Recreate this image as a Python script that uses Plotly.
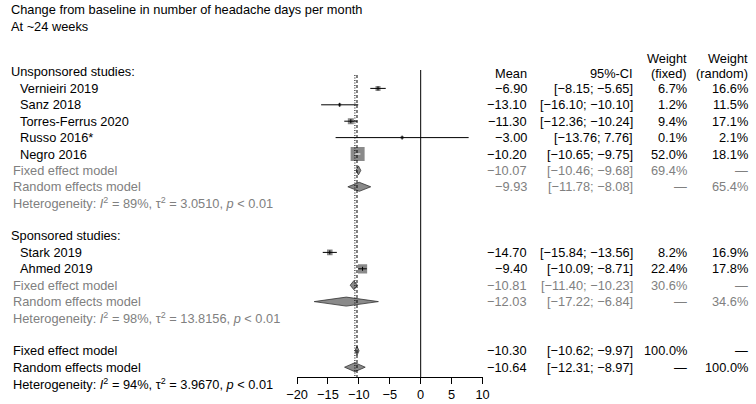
import plotly.graph_objects as go

# ---------------- data ----------------
title_lines = ["Change from baseline in number of headache days per month", "At ~24 weeks"]

studies_u = ["Vernieiri 2019", "Sanz 2018", "Torres-Ferrus 2020", "Russo 2016*", "Negro 2016"]
mean_u = [-6.90, -13.10, -11.30, -3.00, -10.20]
lo_u = [-8.15, -16.10, -12.36, -13.76, -10.65]
hi_u = [-5.65, -10.10, -10.24, 7.76, -9.75]
wf_u = [6.7, 1.2, 9.4, 0.1, 52.0]
wr_u = [16.6, 11.5, 17.1, 2.1, 18.1]

studies_s = ["Stark 2019", "Ahmed 2019"]
mean_s = [-14.70, -9.40]
lo_s = [-15.84, -10.09]
hi_s = [-13.56, -8.71]
wf_s = [8.2, 22.4]
wr_s = [16.9, 17.8]

# pooled: mean, lower, upper, weight
fixed_u = [-10.07, -10.46, -9.68, 69.4]
random_u = [-9.93, -11.78, -8.08, 65.4]
fixed_s = [-10.81, -11.40, -10.23, 30.6]
random_s = [-12.03, -17.22, -6.84, 34.6]
fixed_all = [-10.30, -10.62, -9.97, 100.0]
random_all = [-10.64, -12.31, -8.97, 100.0]

# heterogeneity: I2 (%), tau2
het_u = [89, "3.0510"]
het_s = [98, "13.8156"]
het_all = [94, "3.9670"]

x_ticks = [-20, -15, -10, -5, 0, 5, 10]

# ---------------- layout helpers ----------------
W, H = 756, 404
FONT = "Liberation Sans, Arial, sans-serif"
FS = 12.8
GREY = "#808080"
ROW0, DY = 72.0, 16.4
AXIS_Y = 377.0


def ry(k):
    return ROW0 + DY * k


def fmt(v):
    return f"{v:.2f}".replace("-", "\u2212")


def ci(lo, hi):
    return f"[{fmt(lo)}; {fmt(hi)}]"


def pct(w):
    return f"{w:.1f}%"


fig = go.Figure()
ann = []


def txt(x, y, s, anchor="left", color="black"):
    ann.append(dict(x=x / W, y=1 - y / H, xref="paper", yref="paper", text=s,
                    showarrow=False, xanchor=anchor, yanchor="middle",
                    borderpad=0, borderwidth=0,
                    font=dict(family=FONT, size=FS, color=color)))


X_LABEL, X_STUDY, X_MODEL = 0, 9, 2
X_MEAN, X_CI, X_WF, X_WR = 529, 637, 692, 755


def het_text(h):
    return (f"Heterogeneity: <i>I</i><sup>2</sup> = {h[0]}%, "
            f"\u03c4<sup>2</sup> = {h[1]}, <i>p</i> < 0.01")


# titles and headers
txt(X_LABEL, 9, title_lines[0])
txt(X_LABEL, 26, title_lines[1])
txt(X_MEAN, 74, "Mean", "right")
txt(X_CI, 74, "95%-CI", "right")
txt(X_WF, 58, "Weight", "right")
txt(X_WF, 74, "(fixed)", "right")
txt(X_WR, 58, "Weight", "right")
txt(X_WR, 74, "(random)", "right")

sq_max = 14.0


def study_rows(names, means, los, his, wfs, wrs, k0):
    for i, (n, m, lo, hi, wf, wr) in enumerate(zip(names, means, los, his, wfs, wrs)):
        y = ry(k0 + i)
        txt(X_STUDY, y, n)
        txt(X_MEAN, y, fmt(m), "right")
        txt(X_CI, y, ci(lo, hi), "right")
        txt(X_WF, y, pct(wf), "right")
        txt(X_WR, y, pct(wr), "right")
        size = max(3.0, sq_max * (wf / 52.0) ** 0.5)
        fig.add_trace(go.Scatter(x=[m], y=[y], mode="markers",
                                 marker=dict(symbol="square", size=size, color="#8a8a8a",
                                             line=dict(width=0)),
                                 hoverinfo="skip", showlegend=False))
        inside = size >= 12
        fig.add_trace(go.Scatter(x=[lo, hi], y=[y, y], mode="lines",
                                 line=dict(color="white" if inside else "black", width=1),
                                 hoverinfo="skip", showlegend=False))
        if not inside:
            fig.add_trace(go.Scatter(x=[m, m], y=[y - 2, y + 2], mode="lines",
                                     line=dict(color="black", width=1),
                                     hoverinfo="skip", showlegend=False))


def diamond(est, k, label, color, wf_txt, wr_txt):
    y = ry(k)
    m, lo, hi = est[0], est[1], est[2]
    txt(X_MODEL, y, label, "left", color)
    txt(X_MEAN, y, fmt(m), "right", color)
    txt(X_CI, y, ci(lo, hi), "right", color)
    txt(X_WF, y, wf_txt, "right", color)
    txt(X_WR, y, wr_txt, "right", color)
    h = 4.5
    fig.add_trace(go.Scatter(x=[lo, m, hi, m, lo], y=[y, y - h, y, y + h, y],
                             mode="lines", fill="toself", fillcolor="#8a8a8a",
                             line=dict(color="#333333", width=0.8),
                             hoverinfo="skip", showlegend=False))


DASH = "\u2014"

# unsponsored
txt(X_LABEL, ry(0), "Unsponsored studies:")
study_rows(studies_u, mean_u, lo_u, hi_u, wf_u, wr_u, 1)
diamond(fixed_u, 6, "Fixed effect model", GREY, pct(fixed_u[3]), DASH)
diamond(random_u, 7, "Random effects model", GREY, DASH, pct(random_u[3]))
txt(X_MODEL, ry(8), het_text(het_u), "left", GREY)

# sponsored
txt(X_LABEL, ry(10), "Sponsored studies:")
study_rows(studies_s, mean_s, lo_s, hi_s, wf_s, wr_s, 11)
diamond(fixed_s, 13, "Fixed effect model", GREY, pct(fixed_s[3]), DASH)
diamond(random_s, 14, "Random effects model", GREY, DASH, pct(random_s[3]))
txt(X_MODEL, ry(15), het_text(het_s), "left", GREY)

# overall
diamond(fixed_all, 17, "Fixed effect model", "black", pct(fixed_all[3]), DASH)
diamond(random_all, 18, "Random effects model", "black", DASH, pct(random_all[3]))
txt(X_MODEL, ry(19), het_text(het_all), "left", "black")

# reference lines
fig.add_trace(go.Scatter(x=[0, 0], y=[70, AXIS_Y], mode="lines",
                         line=dict(color="black", width=1), hoverinfo="skip", showlegend=False))
fig.add_trace(go.Scatter(x=[fixed_all[0]] * 2, y=[75, AXIS_Y], mode="lines",
                         line=dict(color="black", width=1, dash="3px,2px"),
                         hoverinfo="skip", showlegend=False))
fig.add_trace(go.Scatter(x=[random_all[0]] * 2, y=[75, AXIS_Y], mode="lines",
                         line=dict(color="black", width=1, dash="1px,1.5px"),
                         hoverinfo="skip", showlegend=False))

X0, X1 = 293, 483
fig.update_layout(
    width=W, height=H, margin=dict(l=0, r=0, t=0, b=0),
    paper_bgcolor="white", plot_bgcolor="rgba(0,0,0,0)",
    annotations=ann,
    xaxis=dict(domain=[X0 / W, X1 / W], range=[-20, 10], anchor="free",
               position=(H - AXIS_Y) / H, showgrid=False, zeroline=False,
               showline=True, linecolor="black", linewidth=1,
               ticks="outside", ticklen=6, tickcolor="black", tickwidth=1,
               tickvals=x_ticks, ticktext=[str(t).replace("-", "\u2212") for t in x_ticks],
               tickfont=dict(family=FONT, size=FS, color="black")),
    yaxis=dict(domain=[0, 1], range=[H, 0], visible=False),
)
fig.write_html("out.html", config={"displayModeBar": False},
               post_script="document.body.style.margin='0';document.body.style.padding='0';")
